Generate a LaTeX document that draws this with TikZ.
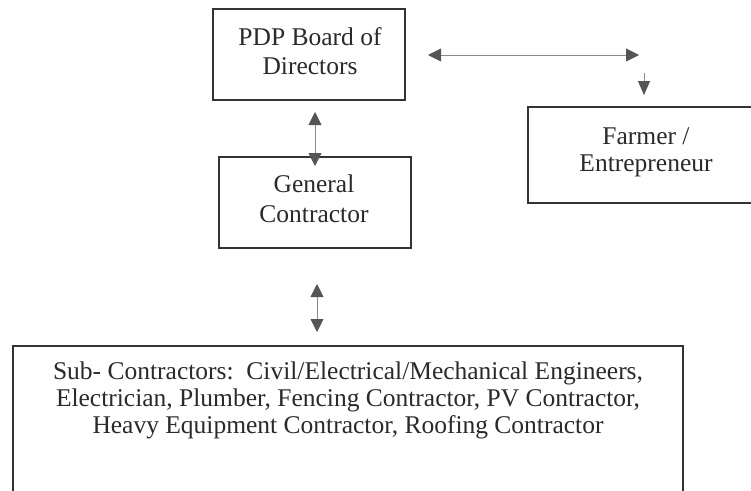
\documentclass[tikz,border=0pt]{standalone}
\usepackage{fontspec}
\setmainfont{Liberation Serif}
\usetikzlibrary{arrows.meta}
\definecolor{txt}{HTML}{2A2A2A}
\definecolor{edge}{HTML}{333333}
\definecolor{conn}{HTML}{8A8A8A}
\definecolor{head}{HTML}{555555}
\begin{document}
\begin{tikzpicture}[x=1pt,y=-1pt,
  boxnode/.style={draw=edge, line width=1.4pt, rectangle, inner sep=0pt},
  txtnode/.style={text=txt, align=center, inner sep=0pt},
  conn/.style={draw=conn, line width=0.9pt,
    {Triangle[length=13pt,width=13pt,fill=head,color=head]}-{Triangle[length=13pt,width=13pt,fill=head,color=head]}},
  connone/.style={draw=conn, line width=0.9pt,
    -{Triangle[length=14pt,width=12pt,fill=head,color=head]}}
]
\useasboundingbox (0,0) rectangle (751,490);
\fill[white] (0,0) rectangle (751,490);
\clip (0,0) rectangle (751,490);

% boxes
\node[boxnode, minimum width=192pt, minimum height=91pt] (pdp) at (309,54.5) {};
\node[boxnode, minimum width=192pt, minimum height=91pt] (gc) at (315,202.5) {};
\node[boxnode, minimum width=236pt, minimum height=96pt] (farmer) at (646,155) {};
\node[boxnode, minimum width=670pt, minimum height=174pt] (sub) at (348,433) {};

% texts
\begin{scope}[font=\fontsize{25.5}{29}\selectfont]
\node[txtnode] (pdptxt) at (310,51.5) {PDP Board of\\Directors};
\end{scope}
\begin{scope}[font=\fontsize{25.5}{30}\selectfont]
\node[txtnode] (gctxt) at (314,198.5) {General\\Contractor};
\end{scope}
\begin{scope}[font=\fontsize{25.5}{27}\selectfont]
\node[txtnode] (fartxt) at (646,152.8) {Farmer /\\Entrepreneur};
\node[txtnode] (subtxt) at (348,400.8) {Sub- Contractors:\ \ Civil/Electrical/Mechanical Engineers,\\Electrician, Plumber, Fencing Contractor, PV Contractor,\\Heavy Equipment Contractor, Roofing Contractor};
\end{scope}

% connector end points
\coordinate (a1t) at (315,112);
\coordinate (a1b) at (315,166);
\coordinate (a2l) at (428,55);
\coordinate (a2r) at (639,55);
\coordinate (a3t) at (644,73);
\coordinate (a3b) at (644,95);
\coordinate (a4t) at (317,284);
\coordinate (a4b) at (317,332);

\draw[conn] (a1t) -- (a1b);
\draw[conn] (a2l) -- (a2r);
\draw[connone] (a3t) -- (a3b);
\draw[conn] (a4t) -- (a4b);
\end{tikzpicture}
\end{document}
